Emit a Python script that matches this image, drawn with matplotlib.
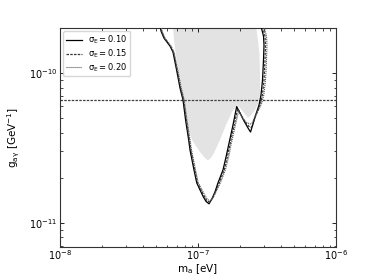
import matplotlib
matplotlib.use('Agg')
import matplotlib.pyplot as plt
from matplotlib.ticker import NullFormatter

## Exclusion contours
# sigma_E = 0.10
ma_010 = [5.31e-8, 5.40e-8, 5.67e-8, 6.27e-8, 6.59e-8, 7.00e-8, 7.41e-8, 7.79e-8, 8.13e-8, 8.56e-8,
          8.75e-8, 9.35e-8, 9.79e-8, 1.034e-7, 1.093e-7, 1.143e-7, 1.202e-7, 1.263e-7, 1.328e-7, 1.396e-7,
          1.443e-7, 1.518e-7, 1.596e-7, 1.667e-7, 1.793e-7, 1.907e-7, 2.015e-7, 2.154e-7, 2.303e-7, 2.402e-7,
          2.504e-7, 2.633e-7, 2.767e-7, 2.861e-7, 2.934e-7, 2.983e-7, 3.008e-7, 2.983e-7, 2.909e-7, 2.861e-7]
g_010 = [2.06e-10, 1.905e-10, 1.711e-10, 1.514e-10, 1.380e-10, 1.047e-10, 7.94e-11, 6.61e-11, 4.86e-11, 3.58e-11,
         3.07e-11, 2.26e-11, 1.85e-11, 1.66e-11, 1.49e-11, 1.39e-11, 1.34e-11, 1.45e-11, 1.61e-11, 1.85e-11,
         2.00e-11, 2.26e-11, 2.75e-11, 3.31e-11, 4.50e-11, 5.98e-11, 5.41e-11, 4.79e-11, 4.30e-11, 4.04e-11,
         4.57e-11, 5.33e-11, 6.12e-11, 7.13e-11, 8.98e-11, 1.221e-10, 1.537e-10, 1.765e-10, 1.935e-10, 2.06e-10]

# sigma_E = 0.15
ma_015 = [5.35e-8, 5.45e-8, 5.72e-8, 6.32e-8, 6.65e-8, 7.07e-8, 7.48e-8, 7.87e-8, 8.23e-8, 8.66e-8,
          8.87e-8, 9.48e-8, 9.92e-8, 1.048e-7, 1.106e-7, 1.156e-7, 1.212e-7, 1.280e-7, 1.350e-7, 1.424e-7,
          1.472e-7, 1.549e-7, 1.631e-7, 1.701e-7, 1.829e-7, 1.942e-7, 2.049e-7, 2.190e-7, 2.342e-7, 2.434e-7,
          2.546e-7, 2.691e-7, 2.832e-7, 2.929e-7, 3.008e-7, 3.059e-7, 3.084e-7, 3.059e-7, 2.983e-7, 2.933e-7]
g_015 = [2.06e-10, 1.905e-10, 1.711e-10, 1.514e-10, 1.380e-10, 1.047e-10, 7.94e-11, 6.61e-11, 4.86e-11, 3.58e-11,
         3.07e-11, 2.26e-11, 1.85e-11, 1.673e-11, 1.514e-11, 1.413e-11, 1.370e-11, 1.468e-11, 1.634e-11, 1.85e-11,
         2.00e-11, 2.26e-11, 2.75e-11, 3.31e-11, 4.50e-11, 5.80e-11, 5.25e-11, 4.71e-11, 4.40e-11, 4.33e-11,
         4.86e-11, 5.50e-11, 6.22e-11, 7.13e-11, 8.98e-11, 1.221e-10, 1.537e-10, 1.765e-10, 1.935e-10, 2.06e-10]

# sigma_E = 0.20
ma_020 = [5.40e-8, 5.49e-8, 5.77e-8, 6.38e-8, 6.70e-8, 7.14e-8, 7.56e-8, 7.95e-8, 8.32e-8, 8.76e-8,
          8.97e-8, 9.59e-8, 1.005e-7, 1.060e-7, 1.117e-7, 1.168e-7, 1.222e-7, 1.295e-7, 1.373e-7, 1.453e-7,
          1.502e-7, 1.580e-7, 1.667e-7, 1.735e-7, 1.866e-7, 1.975e-7, 2.083e-7, 2.227e-7, 2.381e-7, 2.471e-7,
          2.589e-7, 2.745e-7, 2.899e-7, 2.998e-7, 3.085e-7, 3.136e-7, 3.162e-7, 3.136e-7, 3.058e-7, 3.008e-7]
g_020 = [2.06e-10, 1.905e-10, 1.711e-10, 1.514e-10, 1.380e-10, 1.047e-10, 7.94e-11, 6.61e-11, 4.86e-11, 3.58e-11,
         3.07e-11, 2.26e-11, 1.85e-11, 1.685e-11, 1.537e-11, 1.434e-11, 1.402e-11, 1.49e-11, 1.66e-11, 1.85e-11,
         2.00e-11, 2.26e-11, 2.75e-11, 3.31e-11, 4.50e-11, 5.62e-11, 5.09e-11, 4.71e-11, 4.57e-11, 4.64e-11,
         5.17e-11, 5.67e-11, 6.31e-11, 7.13e-11, 8.98e-11, 1.221e-10, 1.537e-10, 1.765e-10, 1.935e-10, 2.06e-10]

# shaded region
ma_fill = [6.59e-8, 6.70e-8, 6.87e-8, 7.28e-8, 7.66e-8, 7.92e-8, 8.32e-8, 9.05e-8, 1.034e-7, 1.124e-7,
           1.182e-7, 1.242e-7, 1.306e-7, 1.443e-7, 1.596e-7, 1.764e-7, 1.917e-7, 2.049e-7, 2.190e-7, 2.303e-7,
           2.462e-7, 2.588e-7, 2.721e-7, 2.814e-7, 2.814e-7, 2.791e-7, 2.721e-7, 2.633e-7]
g_fill = [2.06e-10, 1.66e-10, 1.38e-10, 9.70e-11, 7.13e-11, 5.67e-11, 4.50e-11, 3.58e-11, 2.97e-11, 2.71e-11,
          2.61e-11, 2.71e-11, 2.93e-11, 3.58e-11, 4.50e-11, 5.50e-11, 6.12e-11, 5.75e-11, 5.33e-11, 5.01e-11,
          5.33e-11, 5.67e-11, 6.22e-11, 7.13e-11, 9.70e-11, 1.318e-10, 1.66e-10, 2.06e-10]

# horizontal limit
g_limit = 6.6e-11

# major ticks
x_ticks = [1e-8, 1e-7, 1e-6]
y_ticks = [1e-11, 1e-10]

## Plot
fig = plt.figure(figsize=(3.74, 2.80), dpi=100)
ax = fig.add_axes([0.1604, 0.1179, 0.738, 0.7821])

ax.fill(ma_fill, g_fill, color='#e3e3e3', linewidth=0, zorder=1)
ax.plot(ma_010, g_010, color='k', linestyle='-', linewidth=0.9, label=r'$\mathrm{\sigma_E = 0.10}$', zorder=3)
ax.plot(ma_015, g_015, color='0.2', linestyle=(0, (2, 1)), linewidth=0.9, label=r'$\mathrm{\sigma_E = 0.15}$', zorder=3)
ax.plot(ma_020, g_020, color='0.35', linestyle=(0, (1, 0.8)), linewidth=0.8, label=r'$\mathrm{\sigma_E = 0.20}$', zorder=3)
ax.axhline(g_limit, color='0.25', linestyle=(0, (2, 1)), linewidth=0.9, zorder=2)

ax.set_xscale('log')
ax.set_yscale('log')
ax.set_xlim(1e-8, 1e-6)
ax.set_ylim(6.9e-12, 2.0e-10)
ax.set_xticks(x_ticks)
ax.set_yticks(y_ticks)
ax.xaxis.set_minor_formatter(NullFormatter())
ax.yaxis.set_minor_formatter(NullFormatter())

ax.tick_params(which='both', direction='in', top=True, right=True, labelsize=7)
ax.tick_params(axis='x', pad=1)
ax.tick_params(axis='y', pad=2)
ax.tick_params(which='major', length=3, width=0.6)
ax.tick_params(which='minor', length=1.8, width=0.5)
for s in ax.spines.values():
    s.set_linewidth(0.8)
    s.set_color('0.2')

ax.set_xlabel(r'$\mathrm{m_a\ [eV]}$', fontsize=7.5, labelpad=0)
ax.set_ylabel(r'$\mathrm{g_{a\gamma}\ [GeV^{-1}]}$', fontsize=7.5, labelpad=5)

ax.legend(loc='upper left', fontsize=6, handlelength=1.9, labelspacing=0.15,
          frameon=True, borderaxespad=0.4, borderpad=0.3)

fig.savefig('out.png', dpi=100)
